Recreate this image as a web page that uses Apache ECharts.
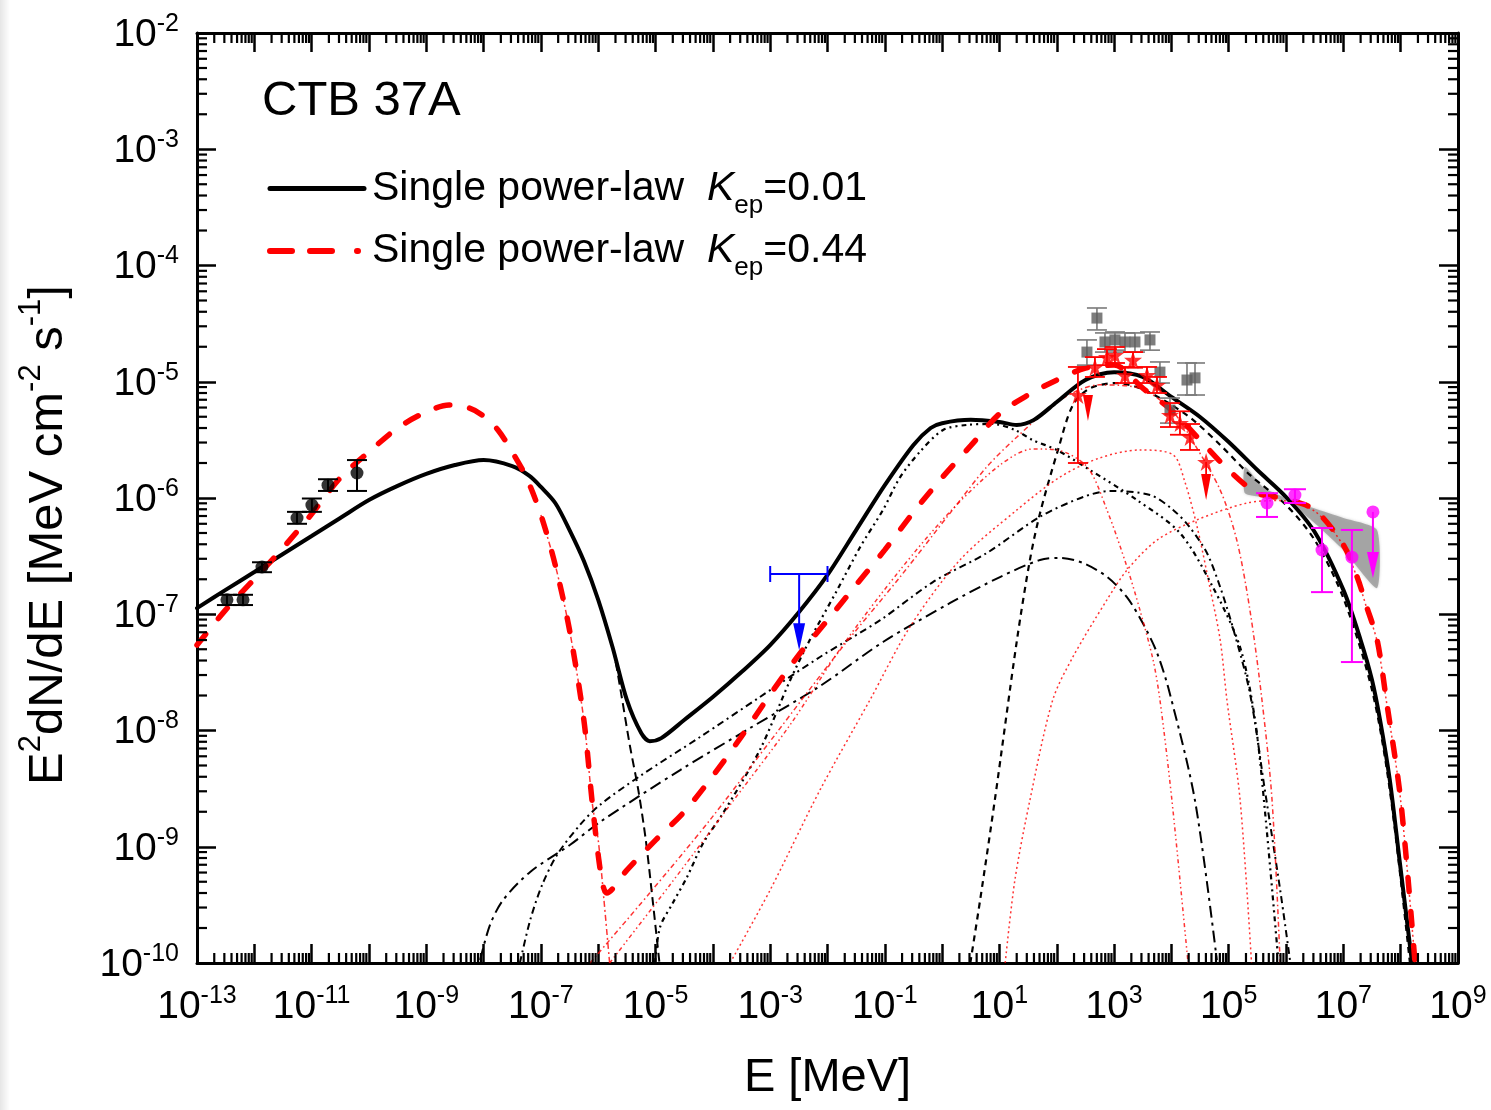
<!DOCTYPE html>
<html><head><meta charset="utf-8">
<script src="https://cdn.jsdelivr.net/npm/echarts/dist/echarts.min.js"></script>
<style>html,body{margin:0;padding:0;background:#fff}#c{width:1491px;height:1110px}</style>
</head><body><div id="c"></div>
<script>
const FONT = "'Liberation Sans', Arial, Helvetica, sans-serif";

// ---------- tick labels (exponents of ten) ----------
const xLabelExps = [-13,-11,-9,-7,-5,-3,-1,1,3,5,7,9];
const yLabelExps = [-10,-9,-8,-7,-6,-5,-4,-3,-2];

// ---------- model curves [E (MeV), E^2 dN/dE] ----------
const blackTotal = [[1e-13,1.13e-7],[3.16e-13,1.62e-7],[1e-12,2.31e-7],[3.16e-12,3.3e-7],[1e-11,4.71e-7],[3.16e-11,6.73e-7],[1e-10,9.6e-7],[3.16e-10,1.27e-6],[1e-9,1.61e-6],[3.16e-9,1.92e-6],[1e-8,2.12e-6],[3.16e-8,1.88e-6],[6.31e-8,1.55e-6],[1e-7,1.245e-6],[1.78e-7,9.06e-7],[3.16e-7,5.3e-7],[5.62e-7,2.87e-7],[1e-6,1.33e-7],[1.78e-6,5.2e-8],[3.16e-6,1.83e-8],[5.62e-6,9.5e-9],[7.94e-6,8.1e-9],[1.26e-5,8.6e-9],[3.16e-5,1.23e-8],[1e-4,1.94e-8],[3.16e-4,3.18e-8],[1e-3,5.43e-8],[3.16e-3,1.04e-7],[1e-2,2.18e-7],[3.16e-2,5.3e-7],[0.1,1.29e-6],[0.316,2.86e-6],[0.631,4.0e-6],[1,4.4e-6],[3.16,4.7e-6],[10,4.5e-6],[20,4.25e-6],[40,4.7e-6],[100,6.7e-6],[316,1.035e-5],[1000,1.21e-5],[3160,1.1e-5],[1e4,7.4e-6],[3.16e4,4.98e-6],[1e5,3.03e-6],[3.16e5,1.74e-6],[1e6,1.02e-6],[3.16e6,5.1e-7],[1e7,1.62e-7],[2e7,6.0e-8],[3.16e7,2.72e-8],[4.37e7,1.23e-8],[6.46e7,3.75e-9],[9.55e7,7.7e-10],[1.58e8,1e-10]];
const redTotal = [[1e-13,5.43e-8],[3.16e-13,1.09e-7],[1e-12,2.01e-7],[3.16e-12,3.72e-7],[1e-11,7.28e-7],[3.16e-11,1.49e-6],[1e-10,2.49e-6],[3.16e-10,4.0e-6],[1e-9,5.5e-6],[2.5e-9,6.3e-6],[5.62e-9,5.94e-6],[1e-8,5.07e-6],[1.78e-8,3.85e-6],[3.16e-8,2.49e-6],[5.62e-8,1.49e-6],[1e-7,7.15e-7],[1.78e-7,2.65e-7],[3.16e-7,7.3e-8],[5.62e-7,1.23e-8],[7.94e-7,2.29e-9],[1.12e-6,5.7e-10],[1.41e-6,4.0e-10],[3.16e-6,6.3e-10],[1e-5,1.14e-9],[3.16e-5,2.0e-9],[1e-4,4.07e-9],[3.16e-4,8.9e-9],[1e-3,2.04e-8],[3.16e-3,4.47e-8],[1e-2,8.9e-8],[3.16e-2,1.79e-7],[0.1,3.58e-7],[0.316,7.55e-7],[1,1.5e-6],[3.16,2.82e-6],[10,5.3e-6],[31.6,7.7e-6],[100,1.035e-5],[316,1.31e-5],[1000,1.39e-5],[3160,8.8e-6],[1e4,5.7e-6],[3.16e4,3.15e-6],[1e5,1.74e-6],[3.16e5,1.1e-6],[1e6,9.8e-7],[3.16e6,7.9e-7],[1e7,3.95e-7],[1.74e7,2.09e-7],[2.57e7,1.15e-7],[3.89e7,6.0e-8],[5.62e7,1.83e-8],[1e8,2.52e-9],[1.78e8,1e-10]];

// components, K_ep = 0.01 (black)
const blackSyncTail = [[3.16e-7,5.3e-7],[5.62e-7,2.87e-7],[1e-6,1.33e-7],[1.78e-6,5.2e-8],[2.4e-6,2.37e-8],[3.55e-6,7.5e-9],[5.0e-6,3.08e-9],[6.76e-6,1.14e-9],[8.9e-6,3.48e-10],[1.17e-5,1e-10]];
const blackBrems = [[9.8e-6,1e-10],[1.2e-5,2.04e-10],[2.0e-5,3.28e-10],[3.55e-5,5.5e-10],[6.8e-5,1.08e-9],[1.51e-4,1.95e-9],[6.6e-4,6.8e-9],[2.24e-3,2.72e-8],[4.9e-3,6.0e-8],[1.48e-2,1.62e-7],[3.72e-2,3.79e-7],[9.3e-2,7.9e-7],[0.182,1.49e-6],[0.407,2.49e-6],[1.04,3.85e-6],[2.69,4.25e-6],[7.76,4.33e-6],[18.6,3.85e-6],[38,3.15e-6],[100,2.59e-6],[380,1.74e-6],[2510,9.6e-7],[1.41e4,5.0e-7],[5.3e4,1.71e-7],[1.58e5,5.2e-8],[2.88e5,1.23e-8],[4.27e5,2.07e-9],[7.2e5,1.17e-10]];
const blackIC1 = [[4.3e-8,1e-10],[6.5e-8,2.34e-10],[1.05e-7,4.69e-10],[1.91e-7,8.5e-10],[4.79e-7,1.54e-9],[1.07e-6,2.29e-9],[5.37e-6,4.06e-9],[6.0e-5,8.8e-9],[6.6e-4,1.94e-8],[7.4e-3,4.29e-8],[8.3e-2,8.9e-8],[0.69,1.89e-7],[6.0,3.36e-7],[51,6.9e-7],[288,1.02e-6],[851,1.15e-6],[4270,1.06e-6],[1.07e4,7.9e-7],[2.09e4,5.6e-7],[4.17e4,3.36e-7],[7.1e4,1.71e-7],[1.17e5,7.8e-8],[2.34e5,2.1e-8],[4.27e5,3.08e-9],[7.9e5,4.25e-10],[1.17e6,1.06e-10]];
const blackIC2 = [[8.7e-9,1.06e-10],[1.29e-8,2.12e-10],[2.19e-8,3.48e-10],[6.5e-8,6.07e-10],[3.24e-7,1.04e-9],[1.07e-6,1.63e-9],[2.69e-5,4.57e-9],[4.47e-4,1.05e-8],[7.4e-3,2.41e-8],[9.3e-2,5.77e-8],[1.38,1.25e-7],[10.2,2.09e-7],[51,2.93e-7],[115,3.05e-7],[288,2.76e-7],[759,2.09e-7],[1660,1.41e-7],[3160,8.4e-8],[5620,4.65e-8],[9330,2.1e-8],[2.57e4,2.52e-9],[6.2e4,1.06e-10]];
const blackPion = [[3.1,1e-10],[4.6,3.48e-10],[8.3,2.52e-9],[20.2,6.0e-8],[34,2.93e-7],[51,7.4e-7],[105,2.59e-6],[191,6.3e-6],[380,8.8e-6],[1120,9.75e-6],[2820,8.8e-6],[8300,6.7e-6],[2.38e4,4.7e-6],[7.1e4,2.86e-6],[2.34e5,1.58e-6],[1e6,8.7e-7],[3.16e6,4.35e-7],[1e7,1.38e-7],[3.16e7,2.23e-8],[6.46e7,3.08e-9],[1.45e8,1e-10]];

// components, K_ep = 0.44 (red)
const redSyncTail = [[1e-7,7.15e-7],[1.78e-7,2.65e-7],[3.16e-7,7.3e-8],[5.62e-7,1.23e-8],[7.94e-7,2.29e-9],[1e-6,1.14e-9],[1.26e-6,3.47e-10],[1.58e-6,1e-10]];
const redBrems = [[7.2e-7,1e-10],[7.9e-6,4.0e-10],[8.9e-5,1.7e-9],[1.2e-3,9.1e-9],[1.66e-2,4.92e-8],[0.184,2.09e-7],[1.37,7.4e-7],[6.0,1.85e-6],[20.2,3.35e-6],[115,6.97e-6],[562,9.4e-6],[2820,8.8e-6],[1.07e4,5.5e-6],[2.57e4,2.86e-6],[7.1e4,1.17e-6],[1.38e5,4.35e-7],[2.34e5,1.09e-7],[3.8e5,1.83e-8],[5.7e5,2.52e-9],[7.9e5,1e-10]];
const redIC1 = [[1.58e-6,1e-10],[1.78e-5,4.69e-10],[2.0e-4,2.29e-9],[2.2e-3,1.11e-8],[1.86e-2,5.43e-8],[0.184,2.4e-7],[1.37,7.6e-7],[10.2,1.92e-6],[38.5,2.64e-6],[100,2.59e-6],[339,1.85e-6],[750,7.9e-7],[1680,2.55e-7],[2820,1.09e-7],[4790,4.04e-8],[6310,1.83e-8],[1.02e4,2.52e-9],[1.95e4,1e-10]];
const redIC2 = [[2.0e-4,1e-10],[1e-3,4.25e-10],[7.4e-3,3.08e-9],[5.5e-2,1.83e-8],[0.275,7.8e-8],[2.04,2.93e-7],[20.2,7.9e-7],[115,1.52e-6],[562,2.21e-6],[2820,2.59e-6],[1.07e4,2.35e-6],[1.7e4,1.4e-6],[2.82e4,5.6e-7],[4.68e4,1.71e-7],[7.1e4,6.0e-8],[9.3e4,1.83e-8],[1.58e5,2.52e-9],[2.5e5,1e-10]];
const redPion = [[12.6,1e-10],[18.6,5.18e-10],[34,2.52e-9],[85,1.83e-8],[191,4.29e-8],[750,1.33e-7],[1680,2.4e-7],[5620,4.35e-7],[2.82e4,6.5e-7],[2.09e5,9.06e-7],[7.9e5,9.5e-7],[3.16e6,7.7e-7],[1e7,3.9e-7],[1.74e7,2.05e-7],[2.57e7,1.12e-7],[3.89e7,5.8e-8],[5.62e7,1.8e-8],[1e8,2.5e-9],[1.78e8,1e-10]];

// ---------- observations ----------
const radioPts = [[3.33e-13,1.33e-7],[6.35e-13,1.33e-7],[1.36e-12,2.55e-7],[5.56e-12,6.73e-7],[1.01e-11,8.7e-7],[1.93e-11,1.29e-6],[6.18e-11,1.64e-6]];
const radioErr = [[3.33e-13,1.20e-7,1.47e-7],[6.35e-13,1.20e-7,1.47e-7],[1.36e-12,2.3e-7,2.8e-7],[5.56e-12,6.0e-7,7.6e-7],[1.01e-11,7.6e-7,9.9e-7],[1.93e-11,1.15e-6,1.45e-6],[6.18e-11,1.15e-6,2.12e-6]];
// X-ray upper limit: [Emin, Emax, Ecentre, F, Farrowtip]
const xrayUL = [[1e-3,1e-2,3.2e-3,2.22e-7,4.9e-8]];
const fermiA = [[336,1.80e-5],[502,3.53e-5],[693,2.20e-5],[1035,2.29e-5],[1549,2.20e-5],[2312,2.20e-5],[4227,2.29e-5],[6310,1.21e-5],[9440,5.71e-6],[1.87e4,1.035e-5],[2.58e4,1.08e-5]];
const fermiAErr = [[336,1.39e-5,2.29e-5],[502,2.79e-5,4.31e-5],[693,1.80e-5,2.63e-5],[1035,1.87e-5,2.68e-5],[1549,1.80e-5,2.63e-5],[2312,1.80e-5,2.63e-5],[4227,1.87e-5,2.68e-5],[6310,9.75e-6,1.48e-5],[9440,4.41e-6,7.24e-6],[1.87e4,7.69e-6,1.45e-5],[2.58e4,7.69e-6,1.45e-5]];
const fermiB = [[234,7.69e-6],[463,1.34e-5],[751,1.63e-5],[1035,1.70e-5],[1549,1.14e-5],[2138,1.54e-5],[3750,1.14e-5],[5600,9.38e-6],[9440,5.18e-6],[1.41e4,4.41e-6],[2.11e4,3.35e-6],[4.03e4,2.04e-6]];
const fermiBErr = [[234,2.0e-6,1.34e-5],[463,1.1e-5,1.63e-5],[751,1.39e-5,1.91e-5],[1035,1.45e-5,1.99e-5],[1549,9.75e-6,1.34e-5],[2138,1.32e-5,1.80e-5],[3750,9.75e-6,1.34e-5],[5600,8.0e-6,1.1e-5],[9440,4.08e-6,6.56e-6],[1.41e4,3.5e-6,5.57e-6],[2.11e4,2.59e-6,4.33e-6]];
const fermiBUL = [[350,7.6e-6,4.6e-6],[4.03e4,2.04e-6,9.6e-7]];
const hessPts = [[4.65e5,9.06e-7],[1.43e6,1.06e-6],[4.24e6,3.57e-7],[1.41e7,3.10e-7],[3.28e7,7.59e-7]];
const hessErr = [[4.65e5,6.87e-7,1.10e-6],[1.43e6,9.06e-7,1.19e-6],[4.24e6,1.55e-7,5.52e-7],[1.41e7,3.88e-8,5.31e-7]];
const hessUL = [[3.28e7,7.59e-7,2.05e-7]];
const bandE  = [1.92e5,4e5,1e6,3e6,1e7,3.86e7];
const bandHi = [1.85e-6,1.24e-6,1.0e-6,8.2e-7,6.73e-7,5.31e-7];
const bandLo = [1.10e-6,1.02e-6,9.4e-7,6.22e-7,3.57e-7,1.68e-7];

// ---------- helpers ----------
const L = v => Math.log10(v);
const toXY = arr => arr.map(p => [L(p[0]), L(p[1])]);

function curve(name, data, color, width, dash, z, cap) {
  return { type:'line', name, data:toXY(data), symbol:'none', showSymbol:false, smooth:0.3,
    itemStyle:{color}, lineStyle:{color, width, type:dash, cap:cap||'butt'}, z, silent:true, animation:false };
}
function errSeries(data, color, capHalf, lw, z) {
  return { type:'custom', data:data.map(d=>[L(d[0]),L(d[1]),L(d[2])]), encode:{x:0,y:[1,2]},
    z, silent:true, animation:false, clip:false,
    renderItem:(params, api) => {
      const x = api.value(0), a = api.coord([x, api.value(1)]), b = api.coord([x, api.value(2)]);
      const st = {stroke:color, lineWidth:lw};
      return {type:'group', children:[
        {type:'line', shape:{x1:a[0],y1:a[1],x2:b[0],y2:b[1]}, style:st},
        {type:'line', shape:{x1:a[0]-capHalf,y1:a[1],x2:a[0]+capHalf,y2:a[1]}, style:st},
        {type:'line', shape:{x1:b[0]-capHalf,y1:b[1],x2:b[0]+capHalf,y2:b[1]}, style:st}]};
    }};
}
function ulSeries(data, color, headW, headL, lw, z) {
  return { type:'custom', data:data.map(d=>[L(d[0]),L(d[1]),L(d[2])]), encode:{x:0,y:[1,2]},
    z, silent:true, animation:false, clip:false,
    renderItem:(params, api) => {
      const x = api.value(0), a = api.coord([x, api.value(1)]), t = api.coord([x, api.value(2)]);
      return {type:'group', children:[
        {type:'line', shape:{x1:a[0],y1:a[1],x2:t[0],y2:t[1]-headL+2}, style:{stroke:color, lineWidth:lw}},
        {type:'polygon', shape:{points:[[t[0]-headW/2,t[1]-headL],[t[0]+headW/2,t[1]-headL],[t[0],t[1]]]}, style:{fill:color}}]};
    }};
}
const xMinor = [], yMinor = [];
for (let n = -13; n < 9; n++) for (let k = 2; k <= 9; k++) xMinor.push([n + L(k), -6]);
for (let n = -10; n < -2; n++) for (let k = 2; k <= 9; k++) yMinor.push([0, n + L(k)]);

const supRich = {
  b:{fontSize:39, fontFamily:FONT, color:'#000', verticalAlign:'bottom', padding:[4,0,0,0]},
  s:{fontSize:25, fontFamily:FONT, color:'#000', verticalAlign:'top'}
};
const axisLineStyle = {color:'#000', width:3};
const tickStyle = {show:true, inside:true, length:19, lineStyle:{color:'#000', width:2.5}};

const N1 = 'Single power-law  K_ep=0.01', N2 = 'Single power-law  K_ep=0.44';
const RED = '#ff0000', THIN_RED = 'rgba(255,0,0,0.8)';
const STAR = 'path://M50,0 L61,35 L98,35 L68,57 L79,91 L50,70 L21,91 L32,57 L2,35 L39,35 Z';

const option = {
  animation:false,
  backgroundColor:'#fff',
  graphic:[{type:'rect', left:0, top:0, shape:{width:10, height:1110},
    style:{fill:new echarts.graphic.LinearGradient(0,0,1,0,[{offset:0,color:'#e6e6e6'},{offset:1,color:'#ffffff'}])}}],
  title:{text:'CTB 37A', left:257, top:72, textStyle:{fontSize:49, fontWeight:'normal', fontFamily:FONT, color:'#000'}},
  legend:{orient:'vertical', left:262, top:163, itemWidth:94, itemHeight:20, itemGap:12, selectedMode:false,
    data:[{name:N1, itemStyle:{opacity:0}, lineStyle:{width:5, color:'#000', type:'solid'}},
          {name:N2, itemStyle:{opacity:0}, lineStyle:{width:6, color:RED, type:[22,18,22,25,1,50], cap:'round'}}],
    formatter:name => '{a|Single power-law  }{k|K}{sub|ep}{t|=' + (name===N1?'0.01':'0.44') + '}',
    textStyle:{rich:{
      a:{fontSize:41, fontFamily:FONT, color:'#000', verticalAlign:'middle', padding:[0,0,0,3]},
      t:{fontSize:41, fontFamily:FONT, color:'#000', verticalAlign:'middle'},
      k:{fontSize:41, fontFamily:FONT, color:'#000', fontStyle:'italic', verticalAlign:'middle'},
      sub:{fontSize:26, fontFamily:FONT, color:'#000', verticalAlign:'bottom', padding:[34,0,0,0]}
    }}},
  grid:{left:197, right:33, top:33, bottom:147, show:false},
  xAxis:[
    {type:'value', min:-13, max:9, interval:1, position:'bottom',
     axisLine:{onZero:false, lineStyle:axisLineStyle}, axisTick:tickStyle, splitLine:{show:false},
     axisLabel:{interval:0, margin:21, rich:supRich,
       formatter:v => xLabelExps.includes(Math.round(v)) ? '{b|10}{s|' + Math.round(v) + '}' : ''},
     name:'E [MeV]', nameLocation:'middle', nameGap:92,
     nameTextStyle:{fontSize:47, fontFamily:FONT, color:'#000'}},
    {type:'value', min:-13, max:9, interval:1, position:'top',
     axisLine:{onZero:false, lineStyle:axisLineStyle}, axisTick:tickStyle, splitLine:{show:false}, axisLabel:{show:false}}
  ],
  yAxis:[
    {type:'value', min:-10, max:-2, interval:1, position:'left',
     axisLine:{onZero:false, lineStyle:axisLineStyle}, axisTick:tickStyle, splitLine:{show:false},
     axisLabel:{interval:0, margin:18, rich:supRich,
       formatter:v => yLabelExps.includes(Math.round(v)) ? '{b|10}{s|' + Math.round(v) + '}' : ''},
     name:'{n|E}{s|2}{n|dN/dE [MeV cm}{s|-2}{n| s}{s|-1}{n|]}', nameLocation:'middle', nameGap:124, nameRotate:90,
     nameTextStyle:{padding:[0,74,0,0], rich:{
       n:{fontSize:49, fontFamily:FONT, color:'#000', verticalAlign:'bottom', padding:[8,0,0,0]},
       s:{fontSize:31, fontFamily:FONT, color:'#000', verticalAlign:'top'}}}},
    {type:'value', min:-10, max:-2, interval:1, position:'right',
     axisLine:{onZero:false, lineStyle:axisLineStyle}, axisTick:tickStyle, splitLine:{show:false}, axisLabel:{show:false}}
  ],
  series:[
    // HESS butterfly
    {type:'custom', data:[[L(bandE[0]), L(bandHi[0])]], encode:{x:0,y:1}, z:1, silent:true, animation:false,
     renderItem:(params, api) => {
       const pts = bandE.map((e,i) => api.coord([L(e), L(bandHi[i])]))
         .concat(bandE.map((e,i) => api.coord([L(e), L(bandLo[i])])).reverse());
       return {type:'polygon', shape:{points:pts, smooth:0.2}, style:{fill:'rgba(150,150,150,0.75)', shadowBlur:3, shadowColor:'rgba(150,150,150,0.6)'}};
     }},
    // minor ticks
    {type:'custom', data:xMinor, encode:{x:0,y:1}, z:10, silent:true, animation:false, clip:false,
     renderItem:(params, api) => {
       const x = api.value(0), b = api.coord([x,-10]), t = api.coord([x,-2]);
       const st = {stroke:'#000', lineWidth:2.2};
       return {type:'group', children:[
         {type:'line', shape:{x1:b[0],y1:b[1],x2:b[0],y2:b[1]-10}, style:st},
         {type:'line', shape:{x1:t[0],y1:t[1],x2:t[0],y2:t[1]+10}, style:st}]};
     }},
    {type:'custom', data:yMinor, encode:{x:0,y:1}, z:10, silent:true, animation:false, clip:false,
     renderItem:(params, api) => {
       const y = api.value(1), l = api.coord([-13,y]), r = api.coord([9,y]);
       const st = {stroke:'#000', lineWidth:2.2};
       return {type:'group', children:[
         {type:'line', shape:{x1:l[0],y1:l[1],x2:l[0]+10,y2:l[1]}, style:st},
         {type:'line', shape:{x1:r[0],y1:r[1],x2:r[0]-10,y2:r[1]}, style:st}]};
     }},
    // thin components K=0.01
    curve('sync001', blackSyncTail, '#000', 2, [9,5], 2),
    curve('brems001', blackBrems, '#000', 2.2, [5,4,2,4,2,4], 2),
    curve('ic1_001', blackIC1, '#000', 2, [7,4,2,4], 2),
    curve('ic2_001', blackIC2, '#000', 2, [12,5,3,5], 2),
    curve('pion001', blackPion, '#000', 2.2, [6,5], 2),
    // thin components K=0.44
    curve('sync044', redSyncTail, THIN_RED, 1.5, [6,3,2,3], 2),
    curve('brems044', redBrems, THIN_RED, 1.5, [5,3,1.5,3], 2),
    curve('ic1_044', redIC1, THIN_RED, 1.5, [4,3,1.5,3,1.5,3], 2),
    curve('ic2_044', redIC2, THIN_RED, 1.5, [2,3], 2),
    curve('pion044', redPion, THIN_RED, 1.5, [2,3], 2),
    // totals
    curve(N1, blackTotal, '#000', 4, 'solid', 4, 'round'),
    curve(N2, redTotal, RED, 5.5, [14,20], 5, 'round'),
    // radio
    errSeries(radioErr, '#000', 10, 2, 8),
    {type:'scatter', data:toXY(radioPts), symbol:'circle', symbolSize:13, itemStyle:{color:'#000'}, z:9, silent:true, animation:false},
    // X-ray upper limit
    {type:'custom', data:xrayUL.map(d=>d.map(L)), encode:{x:[0,1,2], y:[3,4]}, z:8, silent:true, animation:false, clip:false,
     renderItem:(params, api) => {
       const a = api.coord([api.value(0), api.value(3)]), b = api.coord([api.value(1), api.value(3)]);
       const c = api.coord([api.value(2), api.value(3)]), t = api.coord([api.value(2), api.value(4)]);
       const st = {stroke:'#0000ff', lineWidth:2};
       return {type:'group', children:[
         {type:'line', shape:{x1:a[0],y1:a[1],x2:b[0],y2:b[1]}, style:st},
         {type:'line', shape:{x1:a[0],y1:a[1]-8,x2:a[0],y2:a[1]+8}, style:st},
         {type:'line', shape:{x1:b[0],y1:b[1]-8,x2:b[0],y2:b[1]+8}, style:st},
         {type:'line', shape:{x1:c[0],y1:c[1],x2:t[0],y2:t[1]-24}, style:st},
         {type:'polygon', shape:{points:[[t[0]-6,t[1]-27],[t[0]+6,t[1]-27],[t[0],t[1]]]}, style:{fill:'#0000ff'}}]};
     }},
    // Fermi (grey squares)
    errSeries(fermiAErr, '#7a7a7a', 10, 1.6, 6),
    {type:'scatter', data:toXY(fermiA), symbol:'rect', symbolSize:11, itemStyle:{color:'#5c5c5c'}, z:7, silent:true, animation:false},
    // Fermi (red stars)
    errSeries(fermiBErr, RED, 10, 1.8, 8),
    ulSeries(fermiBUL, RED, 10, 26, 1.8, 8),
    {type:'scatter', data:toXY(fermiB), symbol:STAR, symbolSize:18, itemStyle:{color:RED}, z:9, silent:true, animation:false},
    // HESS
    errSeries(hessErr, '#ff00ff', 11, 2, 8),
    ulSeries(hessUL, '#ff00ff', 12, 26, 2, 8),
    {type:'scatter', data:toXY(hessPts), symbol:'circle', symbolSize:13, itemStyle:{color:'#ff00ff'}, z:9, silent:true, animation:false}
  ]
};
const chart = echarts.init(document.getElementById('c'), null, {renderer:'canvas'});
chart.setOption(option);
</script></body></html>
